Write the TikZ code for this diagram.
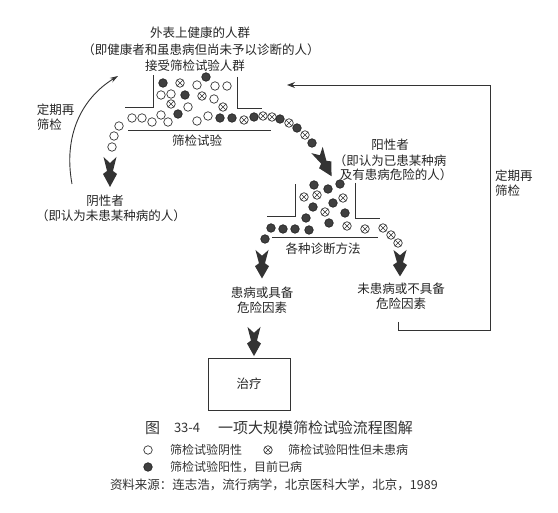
\documentclass[tikz,border=0pt]{standalone}
\usepackage{fontspec}
\setmainfont{Noto Sans CJK SC}
\usetikzlibrary{arrows.meta}
\begin{document}
\begin{tikzpicture}[x=1pt,y=-1pt,
  every node/.style={inner sep=0pt, outer sep=0pt},
  txt/.style={font=\fontsize{12.5}{15}\selectfont, text=black!85, align=center},
  small/.style={font=\fontsize{12}{14}\selectfont, text=black!80},
  negc/.style={circle, draw=black!80, line width=0.7pt, minimum size=8.5pt, fill=white},
  posc/.style={circle, draw=black!85, fill=black!75, line width=0.7pt, minimum size=8.5pt},
  fpc/.style={circle, draw=black!80, line width=0.7pt, minimum size=8.5pt,
    path picture={\draw[line width=0.6pt,black!80] (path picture bounding box.north west)--(path picture bounding box.south east) (path picture bounding box.north east)--(path picture bounding box.south west);}},
  ln/.style={line width=0.9pt, draw=black!80},
  fatarr/.pic={\fill[black!80] (-6.5,0) -- (0,6) -- (6.5,0) -- (3,14) -- (7,17) -- (0,30) -- (-7,17) -- (-3,14) -- cycle;},
]
\useasboundingbox[fill=white] (0,0) rectangle (558,513);

% titles
\node[txt] (t1) at (200,33) {外表上健康的人群};
\node[txt] (t2) at (201,50) {（即健康者和虽患病但尚未予以诊断的人）};
\node[txt] (t3) at (195,66) {接受筛检试验人群};

% funnel 1
\draw[ln] (125,107) -- (153,107) -- (153,75);
\draw[ln] (237,77) -- (237,108) -- (262,108);
\draw[ln] (128,130) -- (271,130);
\node[txt] (f1lab) at (197,141) {筛检试验};

% funnel 2
\draw[ln] (267,216) -- (295,216) -- (295,184);
\draw[ln] (355,183) -- (355,218) -- (380,218);
\draw[ln] (272,237) -- (378,237);
\node[txt] (f2lab) at (323,249) {各种诊断方法};

% open circles
\foreach \x/\y [count=\i] in {197/85,215/86,227/86,161/95,171/94,214/99,188/107,
  132/118,142/118,152/122,161/115,168/122,197/121,208/116,119/126,114/136,112/147}
  \node[negc] (o\i) at (\x,\y) {};
% filled circles
\foreach \x/\y [count=\i] in {163/83,206/77,185/95,178/114,220/118,232/118,254/117,280/119,297/128,312/143,
  314/185,328/189,340/184,333/203,313/207,345/213,306/218,329/223,271/228,283/229,295/229,309/230,265/239}
  \node[posc] (p\i) at (\x,\y) {};
% crossed circles
\foreach \x/\y [count=\i] in {180/83,202/96,171/104,223/107,244/120,263/116,272/117,289/123,305/135,
  304/197,317/195,343/198,325/212,347/226,365/229,383/228,391/235,398/243}
  \node[fpc] (x\i) at (\x,\y) {};

% fat arrows
\coordinate (a1s) at (110,157);
\coordinate (a2s) at (317,150);
\coordinate (a3s) at (262,250);
\coordinate (a4s) at (400,250);
\coordinate (a5s) at (254,327);
\pic at (a1s) {fatarr};
\pic[rotate=29] at (a2s) {fatarr};
\pic[yscale=0.95] at (a3s) {fatarr};
\pic[yscale=0.88] at (a4s) {fatarr};
\pic[yscale=0.97] at (a5s) {fatarr};

% negative label
\node[txt] (neg1) at (105,201) {阴性者};
\node[txt] (neg2) at (111,216) {（即认为未患某种病的人）};

% positive label
\node[txt] (pos1) at (390,145) {阳性者};
\node[txt] (pos2) at (390,161) {（即认为已患某种病};
\node[txt] (pos3) at (396,175) {及有患病危险的人）};

% outcomes
\node[txt] (ill) at (262,300) {患病或具备\\危险因素};
\node[txt] (notill) at (401,296) {未患病或不具备\\危险因素};
\node[draw, ln, minimum width=82pt, minimum height=52pt, txt] (treat) at (249,384) {治疗};

% left re-screen arc
\coordinate (arcS) at (72,184);
\coordinate (arcE) at (118,76);
\draw[ln, -{Stealth[length=8pt,width=5pt]}] (arcS) .. controls (63,135) and (82,98) .. (arcE);
\node[txt, anchor=west, align=left] (lre) at (37,117) {定期再\\筛检};

% right re-screen loop
\coordinate (fbS) at (398,322);
\coordinate (fbC) at (490,330);
\coordinate (fbE) at (287,85);
\draw[ln, -{Stealth[length=8pt,width=6pt]}] (fbS) |- (fbC) |- (fbE);
\node[txt, anchor=west, align=left] (rre) at (495,183) {定期再\\筛检};

% caption
\node[font=\fontsize{15}{17}\selectfont, text=black!80, anchor=west] (c1) at (145,428) {图};
\node[font=\fontsize{13}{15}\selectfont, text=black!80, anchor=west] (c2) at (174,428) {33-4};
\node[font=\fontsize{15}{17}\selectfont, text=black!80, anchor=west] (c3) at (218,428) {一项大规模筛检试验流程图解};

% legend
\node[negc] (l1) at (148,450) {};
\node[small, anchor=west] (l1t) at (170,450) {筛检试验阴性};
\node[fpc] (l2) at (268,450) {};
\node[small, anchor=west] (l2t) at (288,450) {筛检试验阳性但未患病};
\node[posc] (l3) at (148,467) {};
\node[small, anchor=west] (l3t) at (170,467) {筛检试验阳性，目前已病};
\node[font=\fontsize{12.5}{14}\selectfont, text=black!80, anchor=west] (src) at (110,485) {资料来源：连志浩，流行病学，北京医科大学，北京，1989};
\end{tikzpicture}
\end{document}
